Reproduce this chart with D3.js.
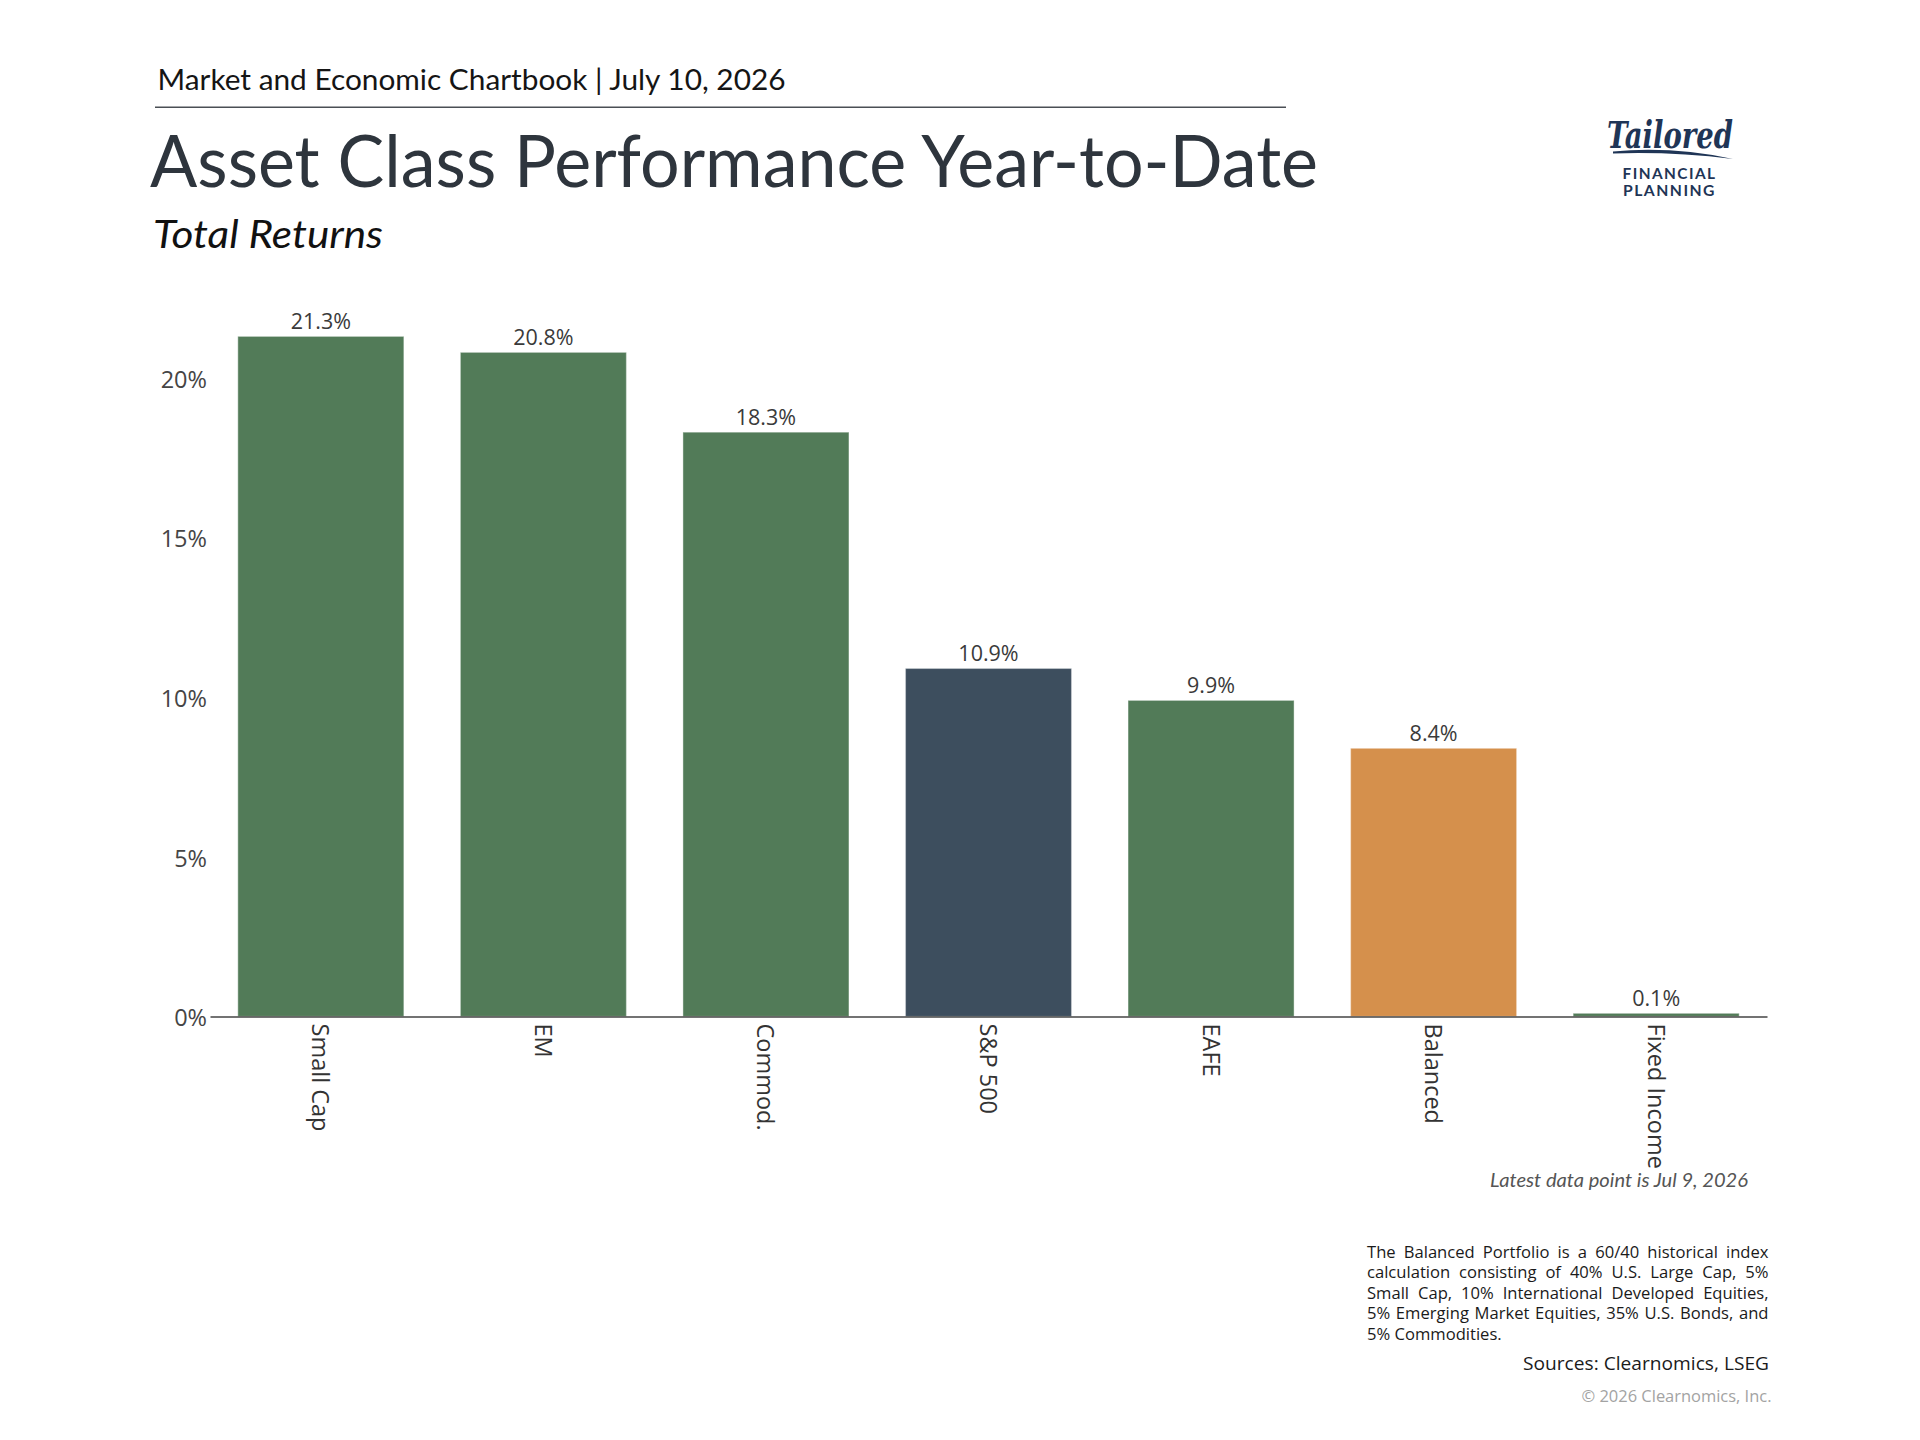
<!DOCTYPE html>
<html><head><meta charset="utf-8">
<script src="https://cdn.jsdelivr.net/npm/d3@7"></script>
<style>
html,body{margin:0;padding:0;background:#fff;}
svg{display:block;}
</style></head><body>
<svg id="c" width="1920" height="1440"></svg>
<script>
// ---------- data ----------
const categories = ["Small Cap", "EM", "Commod.", "S&P 500", "EAFE", "Balanced", "Fixed Income"];
const returnsPct = [21.3, 20.8, 18.3, 10.9, 9.9, 8.4, 0.1];
const barGroups  = ["asset", "asset", "asset", "sp500", "asset", "balanced", "asset"];
const yTicks     = [0, 5, 10, 15, 20];
const headerText = "Market and Economic Chartbook | July 10, 2026";
const titleText = "Asset Class Performance Year-to-Date";
const subtitleText = "Total Returns";
const latestText = "Latest data point is Jul 9, 2026";
const footnoteLines = [
  "The Balanced Portfolio is a 60/40 historical index",
  "calculation consisting of 40% U.S. Large Cap, 5%",
  "Small Cap, 10% International Developed Equities,",
  "5% Emerging Market Equities, 35% U.S. Bonds, and",
  "5% Commodities."
];
const sourcesText = "Sources: Clearnomics, LSEG";
const copyrightText = "© 2026 Clearnomics, Inc.";
const logoWord = "Tailored";
const logoLines = ["FINANCIAL", "PLANNING"];

const groupColor = d3.scaleOrdinal()
  .domain(["asset", "sp500", "balanced"])
  .range(["#527b58", "#3d4e5e", "#d5904c"]);

const svg = d3.select("#c");
const SANS = "'Open Sans', 'Noto Sans', sans-serif";
const HEAD = "Lato, 'Open Sans', sans-serif";

function fit(sel, w) {
  const n = sel.node();
  const L = n.getComputedTextLength();
  if (Math.abs(L - w) / w > 0.01) sel.attr("textLength", w).attr("lengthAdjust", "spacingAndGlyphs");
  return sel;
}

// ---------- header ----------
fit(svg.append("text").attr("x", 157.5).attr("y", 90)
  .attr("font-family", HEAD).attr("font-size", 28).attr("fill", "#151515")
  .text(headerText), 628);

svg.append("line").attr("x1", 155).attr("x2", 1286).attr("y1", 107.3).attr("y2", 107.3)
  .attr("stroke", "#4a4f55").attr("stroke-width", 1.6);

fit(svg.append("text").attr("x", 150).attr("y", 186.7)
  .attr("font-family", HEAD).attr("font-size", 72).attr("fill", "#2e353d")
  .text(titleText), 1168);

fit(svg.append("text").attr("x", 153).attr("y", 248.3)
  .attr("font-family", HEAD).attr("font-style", "italic").attr("font-size", 39.5).attr("fill", "#111")
  .text(subtitleText), 230);

// ---------- logo ----------
const logo = svg.append("g");
fit(logo.append("text").attr("x", 1607).attr("y", 148)
  .attr("font-family", "'DejaVu Serif', serif").attr("font-style", "italic").attr("font-weight", 700)
  .attr("font-size", 38).attr("fill", "#1f3556").text(logoWord), 126);
logo.append("path")
  .attr("d", "M1613,151.5 Q1672,146 1733,159 Q1672,151.5 1613,153.5 Z")
  .attr("fill", "#1f3556");
logo.selectAll("text.ll").data(logoLines).join("text").attr("class", "ll")
  .attr("x", 1669.5).attr("y", (d, i) => 179.3 + i * 16.7)
  .attr("text-anchor", "middle").attr("font-family", "Lato, 'Open Sans', sans-serif")
  .attr("font-weight", 700).attr("font-size", 15).attr("letter-spacing", 1.4)
  .attr("fill", "#1f3556").text(d => d)
  .each(function(d, i) { fit(d3.select(this), i === 0 ? 94 : 93); });

// ---------- chart ----------
const x = d3.scaleBand().domain(categories).range([210, 1767]).paddingInner(0.254).paddingOuter(0.125);
const y = d3.scaleLinear().domain([0, 25]).range([1016.5, 1016.5 - 25 * 31.93]);

const data = categories.map((c, i) => ({ c, v: returnsPct[i], g: barGroups[i] }));

svg.append("g").selectAll("rect").data(data).join("rect")
  .attr("x", d => x(d.c)).attr("width", x.bandwidth())
  .attr("y", d => y(d.v)).attr("height", d => y(0) - y(d.v))
  .attr("fill", d => groupColor(d.g))
  .attr("stroke", "rgba(255,255,255,0.35)").attr("stroke-width", 1.2);

svg.append("g").selectAll("text").data(data).join("text")
  .attr("x", d => x(d.c) + x.bandwidth() / 2).attr("y", d => y(d.v) - 7)
  .attr("text-anchor", "middle").attr("font-family", SANS).attr("font-size", 21.5).attr("fill", "#3a3a3a")
  .text(d => d.v.toFixed(1) + "%");

// y axis labels
const yAx = svg.append("g").attr("transform", "translate(210,0)")
  .call(d3.axisLeft(y).tickValues(yTicks).tickSize(0).tickPadding(3).tickFormat(d => d + "%"));
yAx.select(".domain").remove();
yAx.selectAll("text").attr("font-family", SANS).attr("font-size", 23.5).attr("fill", "#454545").attr("dy", "0.4em");

// x axis
const xAx = svg.append("g").attr("transform", "translate(0," + y(0) + ")")
  .call(d3.axisBottom(x).tickSize(0).tickSizeOuter(0));
xAx.select(".domain").attr("stroke", "#444").attr("stroke-width", 1.6);
xAx.selectAll("text")
  .attr("transform", "rotate(90)").attr("text-anchor", "start")
  .attr("x", 7).attr("y", 0).attr("dy", "0.36em")
  .attr("font-family", SANS).attr("font-size", 23.5).attr("fill", "#333");

// ---------- notes ----------
fit(svg.append("text").attr("x", 1490).attr("y", 1187)
  .attr("font-family", HEAD).attr("font-style", "italic").attr("font-size", 18.5).attr("fill", "#555")
  .text(latestText), 258);

// justified footnote
const fnLeft = 1367, fnRight = 1768.5, fnSize = 16.6;
const fn = svg.append("g").attr("font-family", SANS).attr("font-size", fnSize).attr("fill", "#1a1a1a");
footnoteLines.forEach((line, li) => {
  const words = line.split(" ");
  const by = 1258 + li * 20.4;
  const tmp = words.map(w => fn.append("text").attr("y", by).text(w));
  const widths = tmp.map(t => t.node().getComputedTextLength());
  const total = d3.sum(widths);
  const last = li === footnoteLines.length - 1;
  const gap = last ? fnSize * 0.26 : (fnRight - fnLeft - total) / (words.length - 1);
  let cx = fnLeft;
  tmp.forEach((t, i) => { t.attr("x", cx); cx += widths[i] + gap; });
});

fit(svg.append("text").attr("x", 1769).attr("y", 1370).attr("text-anchor", "end")
  .attr("font-family", SANS).attr("font-size", 18.5).attr("fill", "#1a1a1a")
  .text(sourcesText), 246);

fit(svg.append("text").attr("x", 1771.5).attr("y", 1402).attr("text-anchor", "end")
  .attr("font-family", SANS).attr("font-size", 16).attr("fill", "#a3a3a3")
  .text(copyrightText), 190);
</script>
</body></html>
